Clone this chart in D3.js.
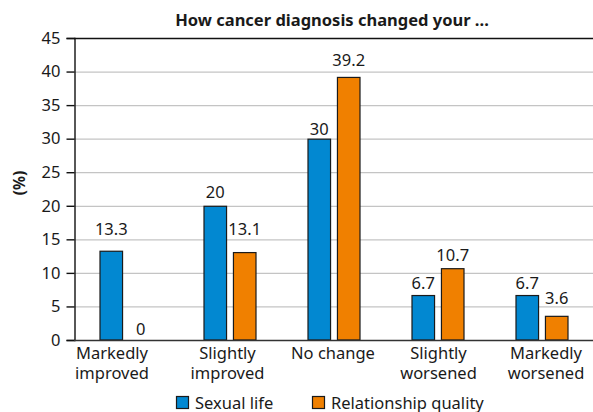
<!DOCTYPE html>
<html>
<head>
<meta charset="utf-8">
<script src="https://cdn.jsdelivr.net/npm/d3@7"></script>
<style>
  html, body { margin: 0; padding: 0; background: #fff; }
  svg { display: block; }
  text { font-family: "Noto Sans", "Open Sans", sans-serif; fill: #1a1a1a; }
</style>
</head>
<body>
<svg id="chart" width="593" height="412"></svg>
<script>
// Survey answers: how a cancer diagnosis changed each aspect (%)
const categories = [["Markedly", "improved"], ["Slightly", "improved"], ["No change"], ["Slightly", "worsened"], ["Markedly", "worsened"]];
const seriesNames = ["Sexual life", "Relationship quality"];
const sexualLife = [13.3, 20, 30, 6.7, 6.7];
const relationshipQuality = [0, 13.1, 39.2, 10.7, 3.6];
const yTicks = [0, 5, 10, 15, 20, 25, 30, 35, 40, 45];

const colors = ["#0288d1", "#f08000"];
const values = [sexualLife, relationshipQuality];
// extra lift of each value label above its bar, px
const labelLift = [[11, 3, -1, 0.7, 0.7], [0, 12, 6, 2.6, 7]];
// horizontal nudge of each category label, px
const categoryShift = [-14, -2.5, -1, 0.5, 4];

const svg = d3.select("#chart");
const plotLeft = 74, plotRight = 594, plotTop = 38, plotBottom = 340;
const fontSize = "16.5px";

const x = d3.scaleBand().domain(d3.range(categories.length)).range([plotLeft, plotRight]).paddingInner(0).paddingOuter(0);
const xSub = d3.scaleBand().domain(d3.range(seriesNames.length)).range([-26.5, 26.5]).paddingInner(0.2);
const y = d3.scaleLinear().domain([0, 45]).range([plotBottom, plotTop]);

// gridlines
svg.append("g").selectAll("line").data(yTicks.filter(t => t > 0 && t < 45)).join("line")
  .attr("x1", plotLeft).attr("x2", 593)
  .attr("y1", d => y(d) + 0.5).attr("y2", d => y(d) + 0.5)
  .attr("stroke", "#c4c4c4").attr("stroke-width", 1.3);

// top border line at 45
svg.append("line").attr("x1", plotLeft).attr("x2", 593)
  .attr("y1", y(45) + 0.5).attr("y2", y(45) + 0.5)
  .attr("stroke", "#111").attr("stroke-width", 1.6);

// y axis
const yAxis = d3.axisLeft(y).tickValues(yTicks).tickSize(8).tickPadding(6);
const gy = svg.append("g").attr("transform", `translate(${plotLeft + 0.5},0)`).call(yAxis);
gy.select(".domain").attr("stroke", "#111").attr("stroke-width", 1.4);
gy.selectAll(".tick line").attr("stroke", "#111").attr("stroke-width", 1.4);
gy.selectAll(".tick text").style("font-size", fontSize).attr("fill", "#1a1a1a");

// bars
categories.forEach((c, i) => {
  seriesNames.forEach((s, j) => {
    const v = values[j][i];
    const cx = x(i) + x.bandwidth() / 2;
    const bx = cx + xSub(j);
    if (v > 0) {
      svg.append("rect")
        .attr("x", bx + 0.5).attr("y", y(v) + 0.5)
        .attr("width", xSub.bandwidth() - 1).attr("height", y(0) - y(v) - 0.5)
        .attr("fill", colors[j]).attr("stroke", "#1a1a1a").attr("stroke-width", 1.2);
    }
    svg.append("text")
      .attr("x", bx + xSub.bandwidth() / 2)
      .attr("y", y(v) - 5 - labelLift[j][i])
      .attr("text-anchor", "middle")
      .style("font-size", fontSize)
      .text(v);
  });
});

// x axis baseline
svg.append("line").attr("x1", plotLeft).attr("x2", 593)
  .attr("y1", y(0) + 0.5).attr("y2", y(0) + 0.5)
  .attr("stroke", "#333").attr("stroke-width", 1.6);

// category labels, one text per line
const xl = svg.append("g");
categories.forEach((lines, i) => {
  const cx = x(i) + x.bandwidth() / 2 + categoryShift[i];
  lines.forEach((ln, k) => {
    xl.append("text").attr("text-anchor", "middle").style("font-size", fontSize)
      .attr("x", cx).attr("y", 359 + k * 20).text(ln);
  });
});

// title
svg.append("text").attr("x", 332).attr("y", 26).attr("text-anchor", "middle")
  .style("font-size", "16.5px").style("font-weight", "bold")
  .text("How cancer diagnosis changed your ...");

// y axis title
svg.append("text").attr("transform", "translate(25,183) rotate(-90)")
  .attr("text-anchor", "middle").style("font-size", "15.5px").style("font-weight", "bold")
  .text("(%)");

// legend
const legendX = [176, 312];
seriesNames.forEach((s, j) => {
  svg.append("rect").attr("x", legendX[j] + 0.5).attr("y", 396.5).attr("width", 12).attr("height", 12)
    .attr("fill", colors[j]).attr("stroke", "#1a1a1a").attr("stroke-width", 1.2);
  svg.append("text").attr("x", legendX[j] + 19).attr("y", 408.5)
    .style("font-size", fontSize).text(s);
});
</script>
</body>
</html>
